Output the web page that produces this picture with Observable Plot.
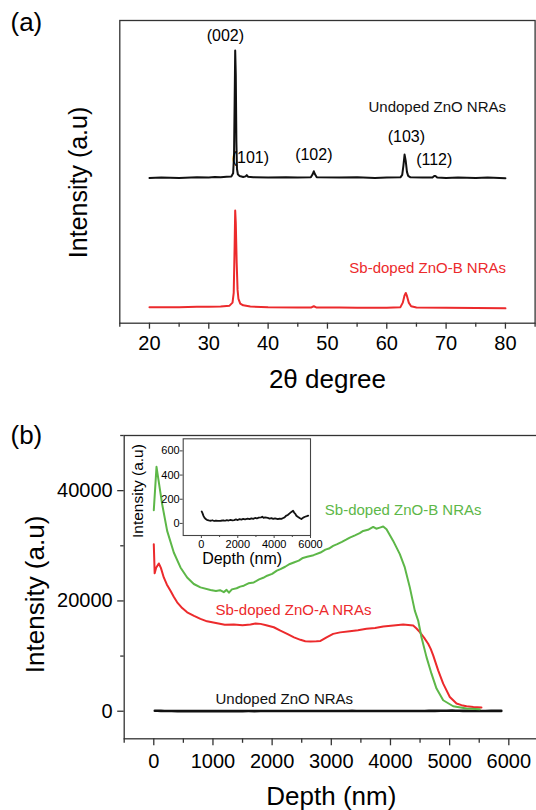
<!DOCTYPE html>
<html><head><meta charset="utf-8">
<script src="https://cdn.jsdelivr.net/npm/d3@7"></script>
<script src="https://cdn.jsdelivr.net/npm/@observablehq/plot@0.6"></script>
<style>
html,body{margin:0;padding:0;background:#fff;overflow:hidden;}
#wrap{position:relative;width:536px;height:810px;overflow:hidden;background:#fff;}
#wrap svg{position:absolute;}
</style></head><body><div id="wrap"></div>
<script>
// ---------- Panel (a): XRD ----------
const xrdUndopedTheta = [20,22,25,28,30,31,32,33,33.8,34.1,34.25,34.35,34.45,34.55,34.65,34.75,34.9,35.2,35.8,36.2,36.4,36.6,37.5,40,43,45,47.2,47.5,47.7,47.9,48.2,52,55,58,60,62.3,62.6,62.8,63.0,63.2,63.4,63.6,64,66,67.7,68.0,68.2,68.5,70,72,75,77,80];
const xrdUndopedInt   = [48.0,48.1,48.0,48.2,48.1,48.3,48.2,48.4,48.5,49.5,55,72,90.1,82,60,51,49.2,48.6,48.3,48.5,48.9,48.4,48.2,48.1,48.2,48.1,48.2,49.2,50.2,49.2,48.2,48.1,48.2,48.0,48.1,48.2,49.0,52,55.7,53.5,50,48.7,48.2,48.1,48.1,48.6,48.6,48.1,48.0,48.1,48.0,48.1,47.9];
const xrdSbBTheta = [20,23,25,28,30,32,33.5,34.0,34.2,34.35,34.45,34.55,34.7,34.85,35.0,35.3,35.8,37,40,45,47.3,47.7,48.1,52,55,60,62.3,62.7,63.0,63.2,63.4,63.7,64.1,65,70,75,80];
const xrdSbBInt   = [5.3,5.3,5.3,5.4,5.4,5.5,5.8,6.8,10,25,37.2,33,20,11,8,6.5,5.9,5.5,5.3,5.2,5.2,5.6,5.2,5.2,5.1,5.1,5.3,6.8,9.2,10,9,6.8,5.6,5.2,5.1,5.0,4.9];
const xrdMajorTicks = [20,30,40,50,60,70,80];
const xrdMinorTicks = [15,25,35,45,55,65,75,85];
const peakLabels = ["(002)","(101)","(102)","(103)","(112)"];
const peakLabelTheta = [32.8,37.0,47.7,63.3,68.0];
const peakLabelInt   = [95.0,54.7,55.7,61.4,54.1];
const xrdSeriesNames = ["Undoped ZnO NRAs","Sb-doped ZnO-B NRAs"];
const xrdSeriesLabelTheta = [80.1,80.1];
const xrdSeriesLabelInt   = [71.4,18.2];

// ---------- Panel (b): depth profile ----------
const sbBDepth = [0,46,142,226,338,451,564,676,789,958,1050,1120,1183,1230,1270,1320,1400,1460,1521,1600,1690,1780,1850,1916,2000,2080,2141,2220,2300,2366,2450,2520,2592,2700,2817,2900,2960,3031,3100,3180,3250,3313,3400,3480,3539,3620,3708,3760,3820,3877,3933,4046,4158,4242,4327,4411,4468,4524,4609,4693,4778,4891,5060,5285,5510];
const sbBInt   = [36440,44320,37520,32700,28780,26070,24260,23070,22460,21990,21800,21950,21600,22000,21500,22100,22300,22600,22760,23200,23360,23900,24200,24570,24900,25500,25780,26200,26700,26970,27300,27800,28000,28300,28780,29300,29500,29990,30300,30700,31100,31490,31900,32300,32700,32900,33420,33100,33300,33500,33000,30890,28490,26070,22460,18250,16440,13420,9810,6810,4100,1990,900,490,360];
const sbADepth = [0,15,40,85,120,169,220,282,340,395,480,564,680,789,900,1071,1200,1352,1500,1634,1720,1803,1900,2028,2140,2254,2370,2479,2560,2648,2749,2817,2920,3031,3150,3313,3450,3595,3740,3877,4050,4215,4300,4384,4440,4496,4570,4637,4680,4722,4806,4891,5003,5116,5200,5285,5400,5538];
const sbAInt   = [30300,25000,26000,26800,26000,24260,23000,21860,20700,19750,18700,17940,17300,16750,16300,15950,15700,15720,15600,15720,15900,15840,15600,15230,14600,14030,13400,12950,12700,12650,12700,12750,13400,14030,14300,14510,14700,14940,15100,15360,15550,15720,15650,15540,15000,14330,13300,12230,11300,10120,7410,5000,2580,1390,1100,900,750,670];
const undopedDepth = [17,60,120,180,238,300,400,515,600,700,800,900,1069,1200,1300,1400,1500,1600,1700,1806,1900,2000,2100,2200,2300,2400,2545,2650,2750,2850,2950,3050,3150,3283,3350,3420,3500,3652,3750,3850,3950,4050,4206,4300,4400,4500,4576,4650,4750,4853,4950,5042,5100,5160,5224,5300,5400,5501,5600,5700,5800,5873];
const undopedInt   = [99,85,60,45,36,30,25,22,26,20,24,21,22,26,22,27,24,29,26,28,33,28,35,31,37,34,39,36,42,38,45,41,48,50,55,46,50,45,40,44,38,42,36,40,38,45,50,62,70,83,95,105,90,80,64,55,45,36,48,55,60,64];
const depthMajorTicks = [0,1000,2000,3000,4000,5000,6000];
const depthMinorTicks = [-500,500,1500,2500,3500,4500,5500,6500];
const intMajorTicks = [0,20000,40000];
const intMinorTicks = [10000,30000,50000];
const depthSeriesNames = ["Sb-doped ZnO-B NRAs","Sb-doped ZnO-A NRAs","Undoped ZnO NRAs"];
const depthLabelX = [2890,1043,1043];
const depthLabelY = [36440,18250,2170];
const insetXTicks = [0,2000,4000,6000];
const insetXMinor = [1000,3000,5000];
const insetYTicks = [0,200,400,600];

const BLACK = "#111", RED = "#ec2a2c", GREEN = "#5db748", FRAME = "#333";
const FONT = "'Liberation Sans', Arial, Helvetica, sans-serif";
const baseStyle = {background: "transparent", maxWidth: "none", overflow: "visible", fontFamily: FONT, color: "#000"};
const wrap = document.getElementById("wrap");
const fmt = d => String(d);
const mid = {textAnchor: "middle", lineAnchor: "middle"};

// Panel a
const plotA = Plot.plot({
  width: 536, height: 400,
  marginLeft: 119.3, marginRight: 1.4, marginTop: 20, marginBottom: 77.3,
  x: {domain: [15, 85]}, y: {domain: [0, 100], axis: null},
  style: baseStyle,
  marks: [
    Plot.line({length: xrdUndopedTheta.length}, {x: xrdUndopedTheta, y: xrdUndopedInt, stroke: BLACK, strokeWidth: 2}),
    Plot.line({length: xrdSbBTheta.length}, {x: xrdSbBTheta, y: xrdSbBInt, stroke: RED, strokeWidth: 2}),
    Plot.frame({stroke: FRAME, strokeWidth: 1.3}),
    Plot.axisX({ticks: xrdMajorTicks, tickSize: 6, tickPadding: 7, fontSize: 20, label: null, tickFormat: fmt, stroke: FRAME, strokeWidth: 1.3, color: "#000"}),
    Plot.axisX({ticks: xrdMinorTicks, tickSize: 4, text: null, label: null, stroke: FRAME, strokeWidth: 1.3}),
    Plot.text(peakLabels, {x: peakLabelTheta, y: peakLabelInt, text: peakLabels, fontSize: 16, fill: "#000", ...mid}),
    Plot.text(xrdSeriesNames, {x: xrdSeriesLabelTheta, y: xrdSeriesLabelInt, text: xrdSeriesNames, fontSize: 15, textAnchor: "end", lineAnchor: "middle", fill: [BLACK, RED]}),
    Plot.text(["2θ degree"], {frameAnchor: "bottom", dy: 56, text: d => d, fontSize: 26, fill: "#000", ...mid}),
    Plot.text(["Intensity (a.u)"], {frameAnchor: "left", dx: -40.5, dy: 10.6, rotate: -90, text: d => d, fontSize: 25, fill: "#000", ...mid}),
    Plot.text(["(a)"], {frameAnchor: "top-left", dx: -109.3, dy: 2.5, textAnchor: "start", lineAnchor: "middle", text: d => d, fontSize: 26, fill: "#000"})
  ]
});
plotA.style.left = "0px"; plotA.style.top = "0px";
wrap.appendChild(plotA);

// Panel b
const plotB = Plot.plot({
  width: 540, height: 410,
  marginLeft: 123.7, marginRight: 2.1, marginTop: 35, marginBottom: 71.7,
  x: {domain: [-500, 6500]}, y: {domain: [-5000, 50000]},
  style: baseStyle,
  marks: [
    Plot.line({length: undopedDepth.length}, {x: undopedDepth, y: undopedInt, stroke: BLACK, strokeWidth: 2.6}),
    Plot.line({length: sbADepth.length}, {x: sbADepth, y: sbAInt, stroke: RED, strokeWidth: 2}),
    Plot.line({length: sbBDepth.length}, {x: sbBDepth, y: sbBInt, stroke: GREEN, strokeWidth: 2}),
    Plot.frame({stroke: FRAME, strokeWidth: 1.3}),
    Plot.axisX({ticks: depthMajorTicks, tickSize: 7, tickPadding: 7.5, fontSize: 20, label: null, tickFormat: fmt, stroke: FRAME, strokeWidth: 1.3, color: "#000"}),
    Plot.axisX({ticks: depthMinorTicks, tickSize: 4.5, text: null, label: null, stroke: FRAME, strokeWidth: 1.3}),
    Plot.axisY({ticks: intMajorTicks, tickSize: 6.5, tickPadding: 5, fontSize: 20, label: null, tickFormat: fmt, stroke: FRAME, strokeWidth: 1.3, color: "#000"}),
    Plot.axisY({ticks: intMinorTicks, tickSize: 3.5, text: null, label: null, stroke: FRAME, strokeWidth: 1.3}),
    Plot.text(depthSeriesNames, {x: depthLabelX, y: depthLabelY, text: depthSeriesNames, fontSize: 15, textAnchor: "start", lineAnchor: "middle", fill: [GREEN, RED, BLACK]}),
    Plot.text(["Depth (nm)"], {frameAnchor: "bottom", dy: 57.7, text: d => d, fontSize: 26, fill: "#000", ...mid}),
    Plot.text(["Intensity (a.u)"], {frameAnchor: "left", dx: -88.5, dy: 7.3, rotate: -90, text: d => d, fontSize: 26, fill: "#000", ...mid}),
    Plot.text(["(b)"], {frameAnchor: "top-left", dx: -113.7, dy: 0, textAnchor: "start", lineAnchor: "middle", text: d => d, fontSize: 26, fill: "#000"})
  ]
});
plotB.style.left = "0px"; plotB.style.top = "400px";
wrap.appendChild(plotB);

// Inset
const plotI = Plot.plot({
  width: 190, height: 140,
  marginLeft: 52.7, marginRight: 10, marginTop: 8.3, marginBottom: 35,
  x: {domain: [-1000, 6000]}, y: {domain: [-100, 700]},
  style: baseStyle,
  marks: [
    Plot.frame({fill: "#fff", stroke: "none"}),
    Plot.line({length: undopedDepth.length}, {x: undopedDepth, y: undopedInt, stroke: BLACK, strokeWidth: 1.8}),
    Plot.frame({stroke: "#444", strokeWidth: 1.1}),
    Plot.axisX({ticks: insetXTicks, tickSize: 3, tickPadding: 1.5, fontSize: 11, label: null, tickFormat: fmt, stroke: "#444", color: "#000"}),
    Plot.axisX({ticks: insetXMinor, tickSize: 2, text: null, label: null, stroke: "#444"}),
    Plot.axisY({ticks: insetYTicks, tickSize: 3, tickPadding: 0.5, fontSize: 11, label: null, tickFormat: fmt, stroke: "#444", color: "#000"}),
    Plot.text(["Depth (nm)"], {frameAnchor: "bottom", dx: -4.7, dy: 23, text: d => d, fontSize: 16, fill: "#000", ...mid}),
    Plot.text(["Intensity (a.u)"], {frameAnchor: "left", dx: -44.7, dy: 3.9, rotate: -90, text: d => d, fontSize: 15.5, fill: "#000", ...mid})
  ]
});
plotI.style.left = "130px"; plotI.style.top = "430px";
wrap.appendChild(plotI);
</script></body></html>
